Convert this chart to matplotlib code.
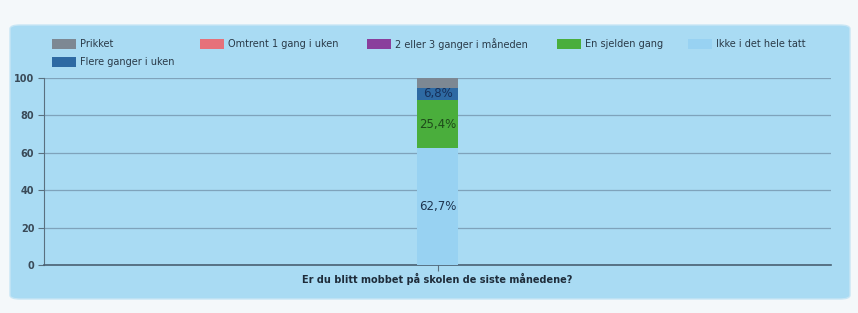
import matplotlib
matplotlib.use("Agg")
import matplotlib.pyplot as plt
from matplotlib.patches import FancyBboxPatch, Rectangle

category = ["Er du blitt mobbet på skolen de siste månedene?"]
series_names = ["Ikke i det hele tatt", "En sjelden gang", "2 eller 3 ganger i måneden",
                "Omtrent 1 gang i uken", "Flere ganger i uken", "Prikket"]
series_values = [62.7, 25.4, 0.0, 0.0, 6.8, 5.1]
series_labels = ["62,7%", "25,4%", "", "", "6,8%", ""]
series_colors = ["#98d2f2", "#4aae3c", "#8a3f9c", "#e6717a", "#2e6aa3", "#7d8893"]
label_colors = ["#1e3550", "#1e4a1a", "#ffffff", "#ffffff", "#16305a", "#ffffff"]
yticks = [0, 20, 40, 60, 80, 100]

legend_order = ["Prikket", "Omtrent 1 gang i uken", "2 eller 3 ganger i måneden",
                "En sjelden gang", "Ikke i det hele tatt", "Flere ganger i uken"]

W, H = 858, 313
fig = plt.figure(figsize=(W / 100, H / 100), dpi=100, facecolor="#f4f8fa")

panel = FancyBboxPatch((10 / W, 14 / H), 840 / W, 274 / H,
                       boxstyle="round,pad=0,rounding_size=0.012",
                       transform=fig.transFigure, facecolor="#a9dbf3",
                       edgecolor="#c8e6f5", linewidth=1.0, zorder=-5)
fig.patches.append(panel)

ax = fig.add_axes([44 / W, (H - 265) / H, (831 - 44) / W, (265 - 78) / H])
ax.set_zorder(2)
ax.set_facecolor("none")
ax.set_xlim(-1, 1)
ax.set_ylim(0, 100)

bottom = 0
for name, v, lab, c, lc in zip(series_names, series_values, series_labels, series_colors, label_colors):
    if v > 0:
        ax.bar(0, v, width=0.102, bottom=bottom, color=c, zorder=3)
        if lab:
            ax.text(0, bottom + v / 2, lab, ha="center", va="center",
                    fontsize=8.5, color=lc, zorder=4)
    bottom += v

ax.set_yticks(yticks)
ax.set_yticklabels([str(t) for t in yticks], fontsize=7, fontweight="bold", color="#3a4a58")
ax.set_xticks([0])
ax.set_xticklabels([""])
ax.tick_params(axis="y", length=4, color="#5a7080", pad=3)
ax.tick_params(axis="x", length=4, color="#5a7080")
ax.grid(axis="y", color="#7fa3bb", linewidth=0.9, zorder=1)
for s in ["top", "right"]:
    ax.spines[s].set_visible(False)
ax.spines["left"].set_color("#5a7080")
ax.spines["bottom"].set_color("#4a6072")
ax.spines["bottom"].set_linewidth(1.2)
ax.set_xlabel(category[0], fontsize=7, fontweight="bold", color="#1e2c3a", labelpad=-2)

# legend (manual layout, two rows)
color_of = dict(zip(series_names, series_colors))
pos = [(52, 44), (200, 44), (367, 44), (557, 44), (688, 44), (52, 62)]
for name, (px, py) in zip(legend_order, pos):
    fig.patches.append(Rectangle((px / W, (H - py - 5) / H), 24 / W, 10 / H,
                                 transform=fig.transFigure, facecolor=color_of[name],
                                 edgecolor="none", zorder=3))
    fig.text((px + 28) / W, (H - py) / H, name, fontsize=7, color="#2a3a48",
             va="center", ha="left")

fig.savefig("out.png", dpi=100, facecolor=fig.get_facecolor())
